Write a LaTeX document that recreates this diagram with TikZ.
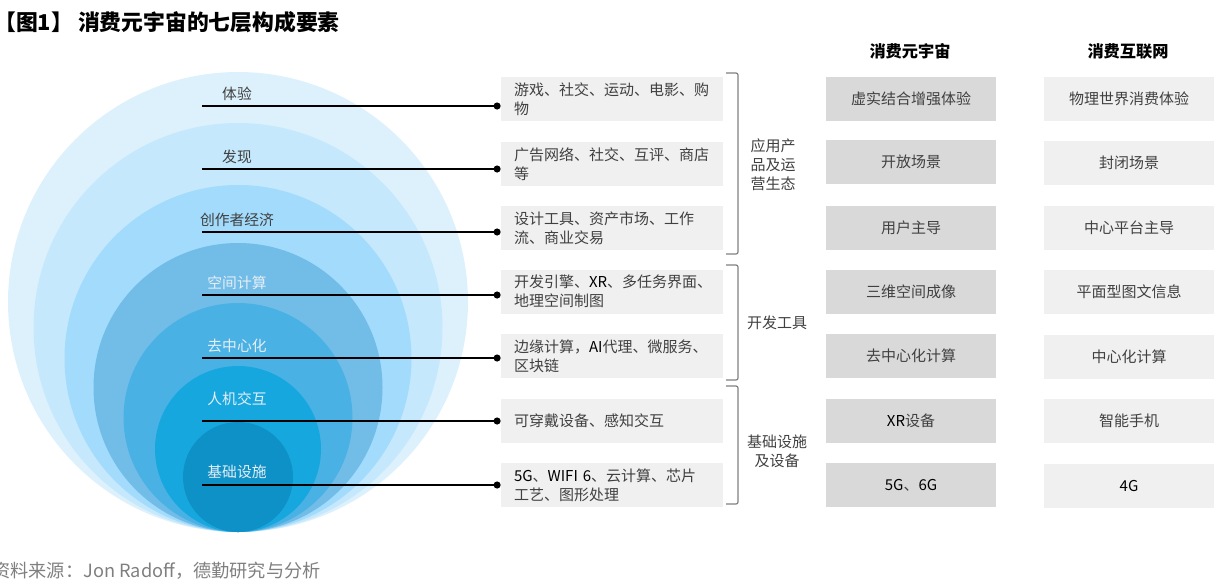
\documentclass[tikz,border=0pt]{standalone}
\usepackage{fontspec}
\setmainfont{Noto Sans CJK SC}
\usetikzlibrary{arrows.meta,positioning,calc}
\definecolor{txt}{HTML}{404040}
\definecolor{txt2}{HTML}{7F7F7F}
\definecolor{lite}{HTML}{E6EEF5}
\definecolor{boxa}{HTML}{F0F0F0}
\definecolor{boxb}{HTML}{D9D9D9}
\definecolor{ring1}{HTML}{DDF1FD}
\definecolor{ring2}{HTML}{C5E8FC}
\definecolor{ring3}{HTML}{A2DBFB}
\definecolor{ring4}{HTML}{72BDE8}
\definecolor{ring5}{HTML}{4AB1E4}
\definecolor{ring6}{HTML}{17A7DF}
\definecolor{ring7}{HTML}{0E91C7}
\newcommand{\lat}[1]{\textcolor{black}{#1}}

\begin{document}
\begin{tikzpicture}[
  x=0.5pt, y=-0.5pt,
  >=Stealth,
  layer/.style={inner sep=0pt, font=\fontsize{7.4}{9}\selectfont, text=#1},
  item/.style={fill=boxa, minimum width=111pt, minimum height=22pt, text width=98pt, inner xsep=6.5pt, inner ysep=0pt, align=left, font=\fontsize{7.5}{9.5}\selectfont, text=txt},
  meta/.style={fill=boxb, minimum width=85pt, minimum height=22pt, inner sep=0pt, font=\fontsize{7.5}{9}\selectfont, text=txt},
  web/.style={fill=boxa, minimum width=85pt, minimum height=22pt, inner sep=0pt, font=\fontsize{7.5}{9}\selectfont, text=txt},
  head/.style={inner sep=0pt, font=\fontsize{8.1}{10}\selectfont\bfseries, text=black},
  group/.style={inner sep=0pt, align=center, font=\fontsize{7.5}{9.5}\selectfont, text=txt},
  brace/.style={draw=txt2, line width=0.6pt, rounded corners=1pt},
  link/.style={-{Circle[length=3.5pt]}, line width=0.75pt, black},
]
\useasboundingbox (0,0) rectangle (1219,585);

\node[anchor=west, inner sep=0pt, font=\fontsize{10.9}{13}\selectfont\bfseries] (title) at (-6,22) {【图1】\hspace{2.5pt}消费元宇宙的七层构成要素};

\fill[ring1] (238,302) circle (230);
\fill[ring2] (238,327.5) circle (204.5);
\fill[ring3] (238,358.5) circle (173.5);
\fill[ring4] (238,387.5) circle (144.5);
\fill[ring5] (238,417.5) circle (114.5);
\fill[ring6] (238,449) circle (83);
\fill[ring7] (238,477) circle (55);

\node[layer=txt] (l1) at (237,94) {体验};
\node[layer=txt] (l2) at (237,157) {发现};
\node[layer=txt] (l3) at (237,220) {创作者经济};
\node[layer=lite] (l4) at (237,283) {空间计算};
\node[layer=lite] (l5) at (237,346) {去中心化};
\node[layer=lite] (l6) at (237,399) {人机交互};
\node[layer=lite] (l7) at (237,472) {基础设施};

\coordinate (s1) at (202,106);
\coordinate (s2) at (202,169);
\coordinate (s3) at (202,232);
\coordinate (s4) at (202,295);
\coordinate (s5) at (202,358);
\coordinate (s6) at (202,421);
\coordinate (s7) at (202,485);

\node[item] (b1) at (612,99) {游戏、社交、运动、电影、购\\物};
\node[item] (b2) at (612,164) {广告网络、社交、互评、商店\\等};
\node[item] (b3) at (612,228) {设计工具、资产市场、工作\\流、商业交易};
\node[item] (b4) at (612,291.5) {开发引擎、\lat{XR}、多任务界面、\\地理空间制图};
\node[item] (b5) at (612,356) {边缘计算，\lat{AI}代理、微服务、\\区块链};
\node[item] (b6) at (612,421) {可穿戴设备、感知交互};
\node[item] (b7) at (612,485) {\lat{5G}、\lat{WIFI 6}、云计算、芯片\\工艺、图形处理};

\draw[link] (s1) -- (s1 -| b1.west);
\draw[link] (s2) -- (s2 -| b2.west);
\draw[link] (s3) -- (s3 -| b3.west);
\draw[link] (s4) -- (s4 -| b4.west);
\draw[link] (s5) -- (s5 -| b5.west);
\draw[link] (s6) -- (s6 -| b6.west);
\draw[link] (s7) -- (s7 -| b7.west);

\draw[brace] (726,73) -- (738,73) -- (738,254) -- (726,254);
\draw[brace] (726,265) -- (738,265) -- (738,380) -- (726,380);
\draw[brace] (726,386) -- (738,386) -- (738,504) -- (726,504);

\node[group] (g1) at (773,165) {应用产\\品及运\\营生态};
\node[group] (g2) at (777,323) {开发工具};
\node[group] (g3) at (777,451) {基础设施\\及设备};

\node[head] (h1) at (910,51) {消费元宇宙};
\node[head] (h2) at (1128,51) {消费互联网};

\node[meta] (m1) at (911,99) {虚实结合增强体验};
\node[meta] (m2) at (911,162) {开放场景};
\node[meta] (m3) at (911,228) {用户主导};
\node[meta] (m4) at (911,292) {三维空间成像};
\node[meta] (m5) at (911,356) {去中心化计算};
\node[meta] (m6) at (911,421) {\lat{XR}设备};
\node[meta] (m7) at (911,485) {\lat{5G}、\lat{6G}};

\node[web] (w1) at (1129,99) {物理世界消费体验};
\node[web] (w2) at (1129,163) {封闭场景};
\node[web] (w3) at (1129,228) {中心平台主导};
\node[web] (w4) at (1129,292) {平面型图文信息};
\node[web] (w5) at (1129,357) {中心化计算};
\node[web] (w6) at (1129,421) {智能手机};
\node[web] (w7) at (1129,486) {\lat{4G}};

\node[anchor=west, inner sep=0pt, font=\fontsize{9.1}{11}\selectfont, text=txt2] (src) at (-8,571) {资料来源：Jon Radoff，德勤研究与分析};

\end{tikzpicture}
\end{document}
